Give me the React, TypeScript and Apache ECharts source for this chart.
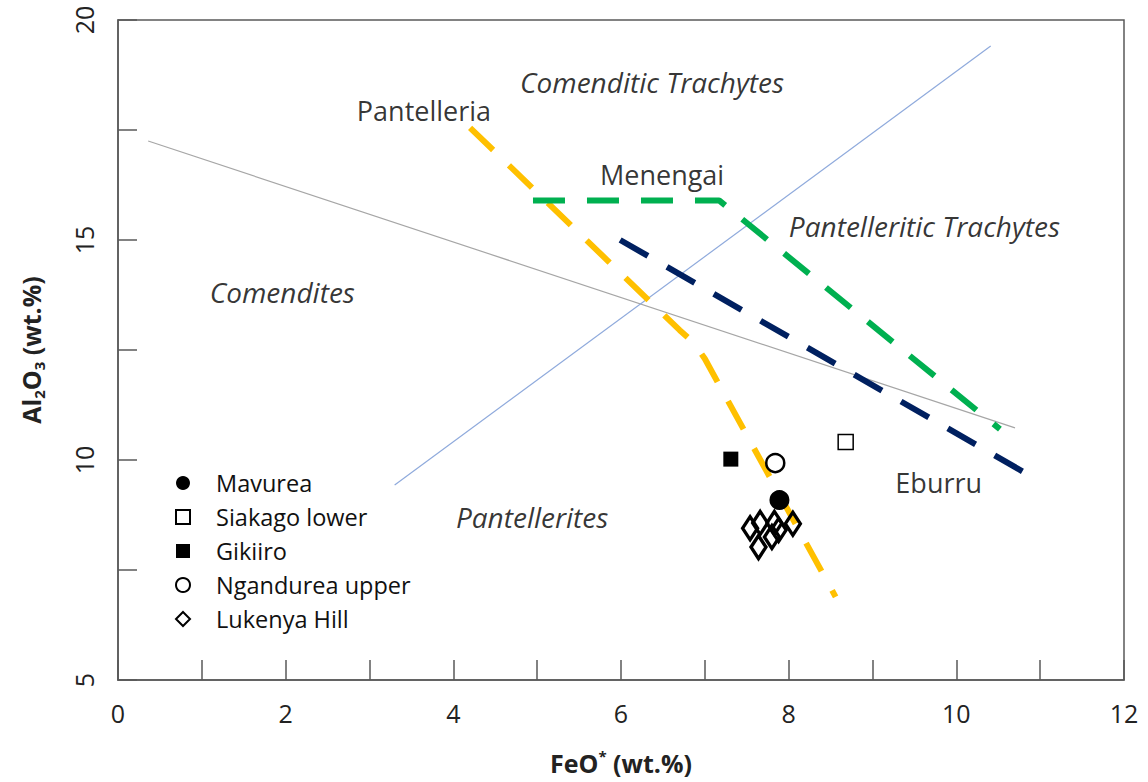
import React, { useEffect, useRef } from "react";
import * as echarts from "echarts";

const FONT = "'Open Sans', Lato, sans-serif";

// Boundary lines
const trachyteDivider = [[0.36, 17.25], [10.7, 10.73]];
const comenditeDivider = [[3.3, 9.43], [10.41, 19.41]];
const pantelleriaTrend = [[4.2, 17.55], [6.7, 12.95], [6.87, 12.66], [7.0, 12.3], [8.56, 6.89]];
const menengaiTrend = [[4.95, 15.9], [7.17, 15.9], [10.52, 10.7]];
const eburruTrend = [[5.99, 15.0], [10.8, 9.73]];

// Samples
const mavurea = [[7.89, 9.09]];
const siakagoLower = [[8.68, 10.41]];
const gikiiro = [[7.31, 10.02]];
const ngandureaUpper = [[7.84, 9.93]];
const lukenyaHill = [
  [7.54, 8.45],
  [7.66, 8.57],
  [7.64, 8.02],
  [7.83, 8.57],
  [7.8, 8.25],
  [7.88, 8.41],
  [8.05, 8.55],
];

// Field labels
const fieldLabels = [
  { name: "Comenditic Trachytes", value: [6.37, 18.59] },
  { name: "Pantelleritic Trachytes", value: [9.62, 15.32] },
  { name: "Comendites", value: [1.96, 13.82] },
  { name: "Pantellerites", value: [4.94, 8.7] },
];
const trendLabels = [
  { name: "Pantelleria", value: [3.65, 17.95] },
  { name: "Menengai", value: [6.49, 16.5] },
  { name: "Eburru", value: [9.79, 9.5] },
];

const xTickLabels = ["0", "2", "4", "6", "8", "10", "12"];
const yTickLabels = ["5", "10", "15", "20"];

export default function App() {
  const ref = useRef<HTMLDivElement>(null);
  useEffect(() => {
    if (!ref.current) return;
    const chart = echarts.init(ref.current, null, { renderer: "svg" });
    const dashed = (color: string, data: number[][]) => ({
      type: "line",
      data,
      showSymbol: false,
      symbol: "none",
      silent: true,
      z: 3,
      lineStyle: { color, width: 6, type: [32, 22] },
    });
    const thin = (color: string, data: number[][]) => ({
      type: "line",
      data,
      showSymbol: false,
      symbol: "none",
      silent: true,
      z: 2,
      lineStyle: { color, width: 1.2 },
    });
    chart.setOption({
      animation: false,
      textStyle: { fontFamily: FONT },
      grid: {
        left: 118,
        right: 24,
        top: 20,
        bottom: 102,
        show: true,
        borderColor: "#595959",
        borderWidth: 1.5,
      },
      legend: {
        orient: "vertical",
        left: 170,
        top: 466,
        itemWidth: 14,
        itemHeight: 14,
        itemGap: 10,
        textStyle: { fontSize: 23.5, color: "#111", fontFamily: FONT, padding: [0, 0, 0, 21] },
        data: ["Mavurea", "Siakago lower", "Gikiiro", "Ngandurea upper", "Lukenya Hill"],
      },
      xAxis: {
        type: "value",
        min: 0,
        max: 12,
        interval: 1,
        name: "{b|FeO}{sup|*}{b| (wt.%)}",
        nameLocation: "middle",
        nameGap: 68,
        nameTextStyle: {
          rich: {
            b: { fontSize: 25, fontWeight: "bold", color: "#222", fontFamily: FONT, lineHeight: 30 },
            sup: { fontSize: 15, fontWeight: "bold", color: "#222", fontFamily: FONT, verticalAlign: "top" },
          },
        },
        axisLine: { lineStyle: { color: "#595959", width: 1.5 } },
        axisTick: { inside: true, length: 20, lineStyle: { color: "#595959", width: 1.5 } },
        splitLine: { show: false },
        axisLabel: {
          fontSize: 25,
          color: "#222",
          margin: 20,
          formatter: (v: number) => (xTickLabels.includes(String(v)) ? String(v) : ""),
        },
      },
      yAxis: {
        type: "value",
        min: 5,
        max: 20,
        interval: 2.5,
        name: "{b|Al}{sub|2}{b|O}{sub|3}{b| (wt.%)}",
        nameLocation: "middle",
        nameRotate: 90,
        nameGap: 72,
        nameTextStyle: {
          rich: {
            b: { fontSize: 25, fontWeight: "bold", color: "#222", fontFamily: FONT, lineHeight: 30 },
            sub: { fontSize: 15, fontWeight: "bold", color: "#222", fontFamily: FONT, verticalAlign: "bottom" },
          },
        },
        axisLine: { lineStyle: { color: "#595959", width: 1.5 } },
        axisTick: { inside: true, length: 19, lineStyle: { color: "#595959", width: 1.5 } },
        splitLine: { show: false },
        axisLabel: {
          fontSize: 25,
          color: "#222",
          rotate: 90,
          margin: 22,
          formatter: (v: number) => (yTickLabels.includes(String(v)) ? String(v) : ""),
        },
      },
      series: [
        thin("#a6a6a6", trachyteDivider),
        thin("#8faadc", comenditeDivider),
        dashed("#ffc000", pantelleriaTrend),
        dashed("#00b050", menengaiTrend),
        dashed("#002060", eburruTrend),
        {
          type: "scatter",
          silent: true,
          z: 4,
          data: fieldLabels,
          symbolSize: 0,
          label: {
            show: true,
            position: "inside",
            formatter: "{b}",
            fontSize: 28,
            fontStyle: "italic",
            color: "#000",
            fontFamily: FONT,
          },
        },
        {
          type: "scatter",
          silent: true,
          z: 4,
          data: trendLabels,
          symbolSize: 0,
          label: {
            show: true,
            position: "inside",
            formatter: "{b}",
            fontSize: 27,
            color: "#000",
            fontFamily: FONT,
          },
        },
        {
          name: "Mavurea",
          type: "scatter",
          z: 6,
          data: mavurea,
          symbol: "circle",
          symbolSize: 20,
          itemStyle: { color: "#000", opacity: 1 },
        },
        {
          name: "Siakago lower",
          type: "scatter",
          z: 6,
          data: siakagoLower,
          symbol: "rect",
          symbolSize: 15,
          itemStyle: { color: "#fff", borderColor: "#000", borderWidth: 1.5, opacity: 1 },
        },
        {
          name: "Gikiiro",
          type: "scatter",
          z: 6,
          data: gikiiro,
          symbol: "rect",
          symbolSize: 15,
          itemStyle: { color: "#000", opacity: 1 },
        },
        {
          name: "Ngandurea upper",
          type: "scatter",
          z: 6,
          data: ngandureaUpper,
          symbol: "circle",
          symbolSize: 18,
          itemStyle: { color: "#fff", borderColor: "#000", borderWidth: 2.5, opacity: 1 },
        },
        {
          name: "Lukenya Hill",
          type: "scatter",
          z: 6,
          data: lukenyaHill,
          symbol: "diamond",
          symbolSize: [15, 23],
          itemStyle: { color: "rgba(255,255,255,0)", borderColor: "#000", borderWidth: 3.5, opacity: 1 },
        },
      ],
    });
    return () => chart.dispose();
  }, []);
  return (
    <div
      ref={ref}
      style={{ position: "absolute", left: 0, top: 0, width: 1148, height: 782, background: "#fff" }}
    />
  );
}
